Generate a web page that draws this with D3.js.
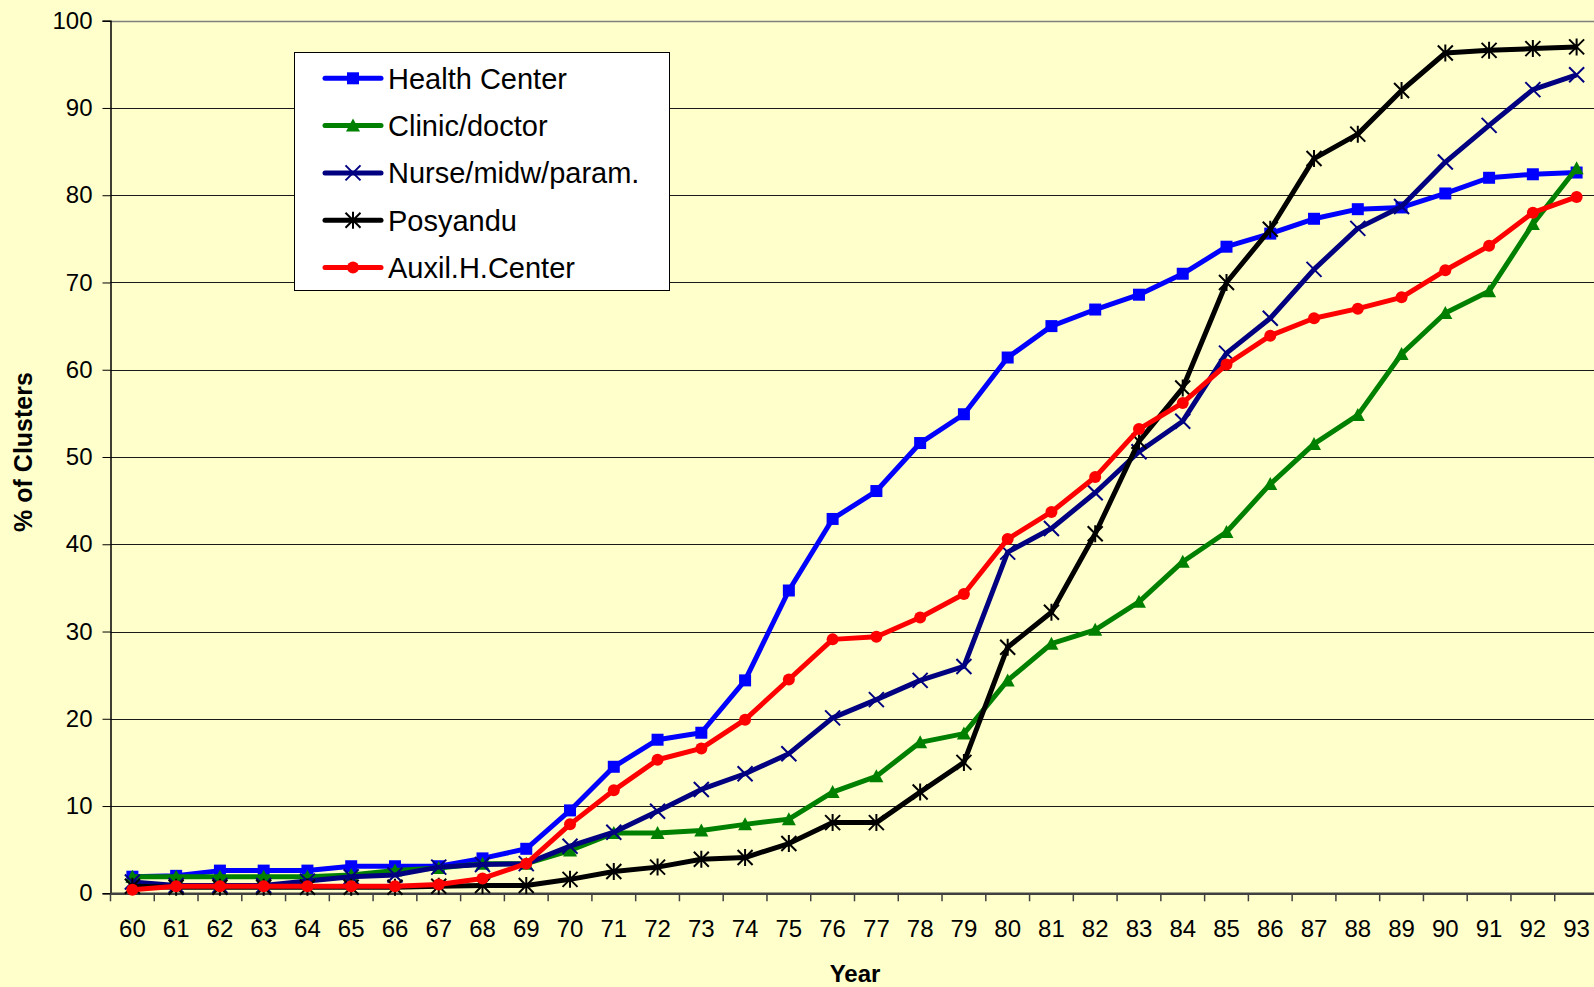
<!DOCTYPE html>
<html><head><meta charset="utf-8">
<script src="https://cdn.jsdelivr.net/npm/d3@7/dist/d3.min.js"></script>
<style>html,body{margin:0;padding:0;background:#FFFFCC;overflow:hidden}</style>
</head><body><svg id="c" width="1594" height="987"></svg>
<script>
const years = ["60","61","62","63","64","65","66","67","68","69","70","71","72","73","74","75","76","77","78","79","80","81","82","83","84","85","86","87","88","89","90","91","92","93"];
const healthCenter = [1.9,2.0,2.6,2.6,2.6,3.1,3.1,3.1,4.0,5.1,9.5,14.5,17.6,18.4,24.4,34.7,42.9,46.1,51.6,54.9,61.4,65.0,66.9,68.6,71.0,74.1,75.6,77.3,78.4,78.6,80.2,82.0,82.4,82.6];
const clinicDoctor = [1.9,1.9,1.9,1.9,1.9,2.1,2.6,2.9,3.4,3.4,4.9,6.9,6.9,7.2,7.9,8.5,11.6,13.4,17.3,18.3,24.4,28.6,30.2,33.4,38.0,41.4,46.9,51.5,54.8,61.8,66.5,69.0,76.7,83.1];
const nurse = [1.3,0.9,0.9,0.9,1.4,1.9,2.1,3.0,3.3,3.4,5.4,7.0,9.4,11.9,13.7,16.0,20.1,22.2,24.4,26.0,39.1,41.8,45.9,50.6,54.1,61.9,65.9,71.5,76.2,78.7,83.8,88.0,92.1,93.8];
const posyandu = [0.8,0.7,0.7,0.7,0.7,0.7,0.7,0.8,0.9,0.9,1.6,2.5,3.0,3.9,4.1,5.7,8.1,8.1,11.6,15.0,28.2,32.2,41.2,51.8,57.9,70.0,76.1,84.2,87.0,92.0,96.3,96.6,96.8,97.0];
const auxil = [0.4,0.8,0.8,0.8,0.8,0.8,0.8,1.0,1.7,3.4,7.9,11.8,15.3,16.6,19.9,24.5,29.1,29.4,31.6,34.3,40.6,43.7,47.7,53.2,56.2,60.6,63.9,65.9,67.0,68.3,71.4,74.2,78.0,79.8];
const yTicks = [0,10,20,30,40,50,60,70,80,90,100];
const seriesNames = ["Health Center","Clinic/doctor","Nurse/midw/param.","Posyandu","Auxil.H.Center"];

const series = [
  {name: seriesNames[0], values: healthCenter, color: "#0000FF", marker: "square"},
  {name: seriesNames[1], values: clinicDoctor, color: "#008000", marker: "triangle"},
  {name: seriesNames[2], values: nurse, color: "#000080", marker: "x"},
  {name: seriesNames[3], values: posyandu, color: "#000000", marker: "star"},
  {name: seriesNames[4], values: auxil, color: "#FF0000", marker: "circle"}
];

const svg = d3.select("#c");
const font = "'Liberation Sans', Arial, sans-serif";
const pLeft = 110.5, pRight = 1598.5, pTop = 20.7, pBottom = 893.3;

const x = d3.scaleBand().domain(years).range([pLeft, pRight]).paddingInner(0).paddingOuter(0);
const y = d3.scaleLinear().domain([0, 100]).range([pBottom, pTop]);

// gridlines
svg.append("g").selectAll("line").data(yTicks.filter(t => t > 0)).join("line")
  .attr("x1", pLeft).attr("x2", 1594)
  .attr("y1", d => Math.round(y(d)) + 0.5).attr("y2", d => Math.round(y(d)) + 0.5)
  .attr("stroke", d => d === 100 ? "#808080" : "#1a1a1a").attr("stroke-width", d => d === 100 ? 1.5 : 1);

// y axis
const yAxis = svg.append("g").attr("transform", `translate(${pLeft},0)`)
  .call(d3.axisLeft(y).tickValues(yTicks).tickSize(8).tickPadding(10).tickFormat(d3.format("d")));
yAxis.select(".domain").attr("stroke", "#000").attr("stroke-width", 1.5);
yAxis.selectAll(".tick line").attr("stroke", "#000");
yAxis.selectAll("text").attr("font-family", font).attr("font-size", 24).attr("fill", "#000");

// x axis
const xAxis = svg.append("g").attr("transform", `translate(0,${pBottom})`)
  .call(d3.axisBottom(x).tickSize(0).tickPadding(27));
xAxis.select(".domain").attr("stroke", "#404040").attr("stroke-width", 2.5);
xAxis.selectAll("text").attr("font-family", font).attr("font-size", 24).attr("fill", "#000");
svg.append("g").selectAll("line").data(years).join("line")
  .attr("x1", d => x(d)).attr("x2", d => x(d))
  .attr("y1", pBottom).attr("y2", pBottom + 8)
  .attr("stroke", "#404040").attr("stroke-width", 1.5);

// titles
svg.append("text").attr("x", 855).attr("y", 982)
  .attr("text-anchor", "middle").attr("font-family", font).attr("font-weight", "bold").attr("font-size", 24)
  .text("Year");
svg.append("text").attr("transform", "translate(32,452) rotate(-90)")
  .attr("text-anchor", "middle").attr("font-family", font).attr("font-weight", "bold").attr("font-size", 25)
  .text("% of Clusters");

function drawMarker(g, type, color, cx, cy) {
  if (type === "square") {
    g.append("rect").attr("x", cx - 6).attr("y", cy - 6).attr("width", 12).attr("height", 12).attr("fill", color);
  } else if (type === "triangle") {
    g.append("path").attr("d", `M${cx},${cy-7}L${cx+7},${cy+6}L${cx-7},${cy+6}Z`).attr("fill", color);
  } else if (type === "x") {
    g.append("path").attr("d", `M${cx-7.5},${cy-7.5}L${cx+7.5},${cy+7.5}M${cx-7.5},${cy+7.5}L${cx+7.5},${cy-7.5}`)
      .attr("stroke", color).attr("stroke-width", 2).attr("fill", "none");
  } else if (type === "star") {
    g.append("path").attr("d", `M${cx-7.5},${cy-7.5}L${cx+7.5},${cy+7.5}M${cx-7.5},${cy+7.5}L${cx+7.5},${cy-7.5}M${cx},${cy-8.5}L${cx},${cy+8.5}`)
      .attr("stroke", color).attr("stroke-width", 2).attr("fill", "none");
  } else if (type === "circle") {
    g.append("circle").attr("cx", cx).attr("cy", cy).attr("r", 6).attr("fill", color);
  }
}

const line = d3.line().x((d, i) => x(years[i]) + x.bandwidth() / 2).y(d => y(d));
series.forEach(s => {
  const g = svg.append("g");
  g.append("path").attr("d", line(s.values)).attr("fill", "none")
    .attr("stroke", s.color).attr("stroke-width", 5).attr("stroke-linejoin", "round");
  s.values.forEach((v, i) => drawMarker(g, s.marker, s.color, x(years[i]) + x.bandwidth() / 2, y(v)));
});

// legend
const lg = svg.append("g");
lg.append("rect").attr("x", 294.5).attr("y", 52.5).attr("width", 375).attr("height", 238)
  .attr("fill", "#fff").attr("stroke", "#000").attr("stroke-width", 1);
series.forEach((s, i) => {
  const cy = 78.3 + i * 47.3;
  lg.append("line").attr("x1", 325).attr("x2", 381).attr("y1", cy).attr("y2", cy)
    .attr("stroke", s.color).attr("stroke-width", 5).attr("stroke-linecap", "round");
  drawMarker(lg, s.marker, s.color, 353, cy);
  lg.append("text").attr("x", 388).attr("y", cy + 10.5).attr("font-family", font).attr("font-size", 29)
    .attr("fill", "#000").text(s.name);
});
</script></body></html>
